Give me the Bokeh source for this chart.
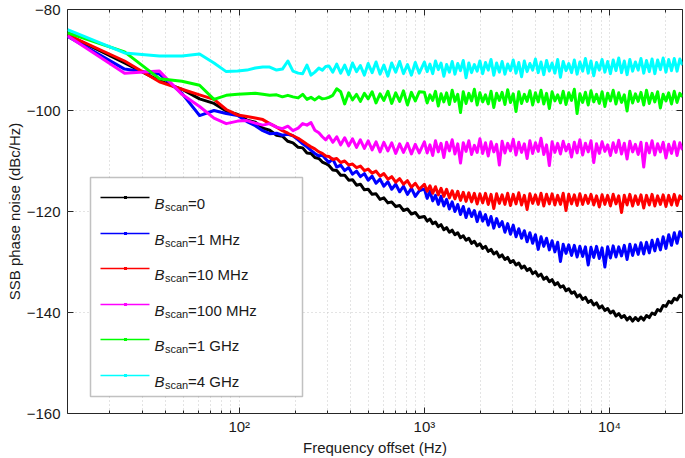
from bokeh.plotting import figure
from bokeh.models import Range1d, FixedTicker, LogAxis, LinearAxis, Label, BoxAnnotation, CustomJSTickFormatter
from bokeh.embed import file_html
from bokeh.resources import INLINE

# ---------------- data ----------------
FREQ_HZ = [
    11.8, 24, 37, 49, 61, 73, 85, 98, 110, 122, 134, 146, 159, 171, 183, 195, 208, 220, 232, 244, 256, 269, 281, 293,
    305, 320, 336, 353, 371, 390, 409, 430, 451, 474, 497, 522, 548, 576, 604, 635, 666, 700, 735, 771, 810, 851, 893, 938,
    1000, 1035, 1072, 1109, 1148, 1189, 1230, 1274, 1318, 1365,
    1413, 1462, 1514, 1567, 1622, 1679, 1738, 1799, 1862, 1928,
    1995, 2065, 2138, 2213, 2291, 2371, 2455, 2541, 2630, 2723,
    2818, 2917, 3020, 3126, 3236, 3350, 3467, 3589, 3715, 3846,
    3981, 4121, 4266, 4416, 4571, 4732, 4898, 5070, 5248, 5433,
    5623, 5821, 6026, 6237, 6457, 6683, 6918, 7161, 7413, 7674,
    7943, 8222, 8511, 8810, 9120, 9441, 9772, 10116, 10471, 10839,
    11220, 11614, 12023, 12445, 12882, 13335, 13804, 14289, 14791, 15311,
    15849, 16406, 16982, 17579, 18197, 18836, 19498, 20184, 20893, 21627,
    22387, 23174, 23988, 24800,
]

NOISE_0 = [
    -85.0, -90.6, -94.1, -95.8, -97.7, -98.6, -100.1, -100.8, -101.9, -102.3, -103.5, -103.9,
    -104.9, -105.1, -106.1, -106.4, -107.3, -107.4, -108.4, -108.5, -109.3, -109.5, -110.2, -110.5,
    -110.9, -111.8, -111.9, -112.8, -112.8, -113.8, -113.7, -114.8, -114.6, -115.7, -115.6, -116.6,
    -116.5, -117.6, -117.3, -118.3, -118.1, -119.0, -118.8, -119.8, -119.5, -120.5, -120.2, -121.2,
    -121.0, -121.9, -121.5, -122.4, -122.1, -123.0, -122.6, -123.6, -123.2, -124.1,
    -123.7, -124.6, -124.2, -125.2, -124.8, -125.7, -125.3, -126.3, -125.9, -126.8,
    -126.4, -127.3, -126.9, -127.9, -127.5, -128.4, -128.0, -129.0, -128.6, -129.5,
    -129.1, -130.1, -129.7, -130.6, -130.2, -131.2, -130.8, -131.7, -131.3, -132.3,
    -131.9, -132.8, -132.4, -133.4, -133.0, -133.9, -133.5, -134.5, -134.1, -135.0,
    -134.7, -135.7, -135.3, -136.2, -135.9, -136.9, -136.5, -137.4, -137.0, -138.0,
    -137.6, -138.5, -138.1, -139.1, -138.7, -139.6, -139.2, -140.1, -139.7, -140.7,
    -140.2, -141.0, -140.6, -141.5, -140.9, -141.7, -141.0, -141.6, -140.9, -141.5,
    -140.6, -141.0, -140.1, -140.4, -139.4, -139.7, -138.6, -138.8, -137.8, -138.1,
    -137.2, -137.5, -136.6, -136.9,
]

NOISE_1MHZ = [
    -85.3, -91.8, -92.8, -96.6, -101.0, -100.0, -100.6, -101.0, -102.2, -103.0, -104.0, -104.6,
    -104.5, -104.9, -104.7, -105.0, -105.8, -106.6, -107.2, -107.9, -108.5, -109.0, -108.8, -109.6,
    -110.3, -109.6, -111.2, -110.8, -111.9, -111.3, -112.6, -112.0, -113.1, -112.5, -113.8, -113.0,
    -114.4, -113.6, -115.0, -114.1, -115.6, -114.6, -116.1, -115.0, -116.6, -115.4, -117.0, -115.9,
    -115.5, -117.4, -116.0, -117.9, -116.8, -118.6, -117.0, -118.9, -117.6, -119.5,
    -118.1, -120.0, -118.6, -120.6, -119.0, -121.2, -119.5, -121.0, -119.8, -122.0,
    -120.1, -121.9, -120.6, -122.7, -121.0, -123.3, -121.4, -123.0, -122.0, -124.1,
    -122.4, -124.5, -122.7, -125.0, -123.4, -125.3, -123.8, -126.0, -124.2, -126.3,
    -124.6, -127.5, -125.0, -126.9, -125.3, -127.6, -125.8, -128.0, -126.1, -129.9,
    -126.5, -128.3, -126.6, -128.7, -126.7, -129.0, -126.9, -128.9, -127.0, -130.6,
    -127.1, -129.1, -126.9, -129.3, -127.2, -131.0, -127.0, -129.2, -126.8, -129.0,
    -127.0, -128.8, -126.7, -129.5, -126.5, -128.7, -126.6, -128.5, -126.2, -128.4,
    -126.1, -128.2, -125.7, -127.8, -125.5, -127.6, -125.0, -127.3, -124.6, -126.7,
    -124.2, -126.3, -124.0, -125.2,
]

NOISE_10MHZ = [
    -85.0, -90.2, -94.3, -95.8, -96.9, -97.8, -99.8, -100.9, -101.2, -101.5, -101.8, -102.6,
    -103.3, -104.0, -104.5, -105.0, -105.5, -106.1, -106.7, -107.2, -107.6, -108.2, -108.5, -109.0,
    -109.1, -109.7, -109.5, -110.3, -110.0, -110.8, -110.6, -111.3, -111.0, -111.9, -111.6, -112.4,
    -112.0, -113.0, -112.5, -113.6, -113.1, -114.2, -113.5, -114.6, -113.9, -115.2, -114.4, -115.6,
    -114.6, -116.0, -114.9, -116.4, -115.1, -116.7, -115.4, -117.0, -115.6, -117.3,
    -115.9, -117.5, -116.0, -117.8, -116.2, -118.0, -116.3, -118.1, -116.4, -118.5,
    -116.5, -118.3, -116.4, -118.6, -116.6, -119.4, -116.5, -118.4, -116.7, -118.6,
    -116.4, -118.8, -116.6, -118.5, -116.3, -118.7, -116.8, -119.6, -116.5, -118.4,
    -116.7, -118.6, -116.4, -118.9, -116.6, -118.5, -116.5, -118.7, -116.8, -118.6,
    -116.4, -119.8, -116.6, -118.5, -116.7, -118.8, -116.5, -118.6, -116.8, -118.4,
    -116.6, -118.7, -116.9, -119.1, -116.7, -118.6, -116.8, -118.9, -116.6, -118.5,
    -116.9, -120.2, -116.8, -118.7, -116.6, -118.9, -116.9, -118.6, -116.7, -119.3,
    -116.8, -118.7, -116.6, -118.9, -116.9, -118.6, -116.7, -119.0, -116.8, -118.7,
    -116.6, -118.8, -116.9, -117.6,
]

NOISE_100MHZ = [
    -85.2, -92.6, -92.2, -96.8, -99.2, -101.5, -102.6, -102.1, -102.0, -102.5, -102.9, -102.6,
    -103.3, -103.6, -103.1, -104.0, -103.5, -102.6, -102.9, -102.4, -103.9, -104.4, -105.2, -105.8,
    -105.0, -106.3, -105.2, -106.8, -105.4, -107.0, -105.6, -107.3, -105.8, -107.5, -106.0, -107.8,
    -106.2, -108.2, -106.3, -108.0, -106.4, -108.5, -106.6, -108.3, -106.5, -108.6, -106.7, -108.4,
    -106.2, -108.4, -106.8, -108.9, -106.0, -108.2, -106.5, -109.3, -106.3, -108.0,
    -105.8, -108.6, -106.6, -110.4, -106.4, -108.1, -106.0, -108.7, -106.9, -108.3,
    -105.6, -108.5, -106.4, -109.0, -106.2, -108.2, -106.7, -110.8, -106.1, -108.4,
    -106.5, -108.0, -105.7, -108.8, -106.3, -108.3, -106.6, -109.5, -106.0, -108.5,
    -106.4, -108.1, -105.5, -108.7, -106.8, -110.9, -106.2, -108.3, -106.5, -108.6,
    -106.1, -108.0, -106.7, -109.2, -106.3, -108.4, -105.8, -108.8, -106.5, -108.2,
    -106.0, -110.3, -106.6, -108.5, -106.2, -108.1, -106.8, -108.9, -106.4, -108.3,
    -105.9, -108.6, -106.5, -109.6, -106.1, -108.2, -106.7, -108.7, -106.3, -111.2,
    -106.5, -108.4, -106.0, -108.8, -106.6, -108.2, -106.3, -109.4, -106.7, -108.5,
    -106.2, -108.9, -106.4, -107.8,
]

NOISE_1GHZ = [
    -84.6, -88.4, -93.7, -94.2, -95.0, -97.8, -97.0, -96.8, -96.7, -96.6, -96.8, -97.0,
    -96.9, -97.3, -97.0, -97.3, -97.5, -96.8, -97.8, -97.4, -97.9, -97.3, -97.7, -97.6,
    -97.4, -97.0, -95.7, -96.3, -98.7, -96.5, -97.9, -96.8, -98.2, -96.6, -97.7, -96.3,
    -98.5, -96.7, -98.0, -96.2, -98.6, -96.5, -98.2, -96.1, -98.9, -96.4, -98.1, -96.3,
    -96.4, -98.5, -96.9, -98.0, -96.2, -99.1, -96.7, -98.3, -96.5, -98.8,
    -96.0, -98.2, -96.8, -100.4, -96.3, -98.6, -96.6, -98.1, -95.8, -98.9,
    -96.5, -98.3, -96.9, -98.7, -96.2, -99.4, -96.6, -98.0, -96.4, -98.8,
    -95.9, -98.4, -96.7, -100.2, -96.3, -98.6, -96.8, -98.2, -96.1, -98.9,
    -96.5, -98.3, -96.0, -98.7, -96.6, -99.6, -96.3, -98.1, -96.9, -98.5,
    -96.2, -98.8, -96.5, -98.0, -95.8, -100.6, -96.7, -98.4, -96.4, -98.9,
    -96.1, -98.3, -96.8, -98.6, -96.3, -99.2, -96.6, -98.1, -96.0, -98.7,
    -96.5, -98.4, -96.9, -100.1, -96.2, -98.5, -96.7, -98.2, -96.4, -98.9,
    -96.0, -98.6, -96.6, -98.3, -96.3, -99.5, -96.8, -98.1, -96.5, -98.7,
    -96.2, -98.4, -96.6, -97.3,
]

NOISE_4GHZ = [
    -84.0, -88.6, -89.2, -89.2, -88.8, -90.6, -92.3, -92.2, -92.0, -91.6, -91.4, -91.4,
    -92.0, -91.8, -90.2, -92.2, -92.6, -92.7, -91.0, -93.0, -92.4, -91.6, -92.0, -91.3,
    -91.2, -92.4, -90.8, -92.6, -91.0, -92.9, -90.6, -92.3, -91.1, -93.0, -90.7, -92.5,
    -90.4, -92.8, -91.0, -93.2, -90.6, -92.4, -90.3, -92.7, -90.9, -93.0, -90.5, -92.6,
    -90.4, -92.3, -90.8, -92.7, -90.2, -91.9, -90.6, -93.2, -90.9, -92.4,
    -90.3, -92.8, -90.7, -92.1, -90.1, -93.5, -90.6, -92.5, -90.9, -92.2,
    -90.2, -92.7, -90.5, -92.0, -89.9, -93.0, -90.6, -92.4, -90.3, -92.8,
    -90.8, -92.1, -90.0, -92.6, -90.5, -93.3, -90.2, -92.3, -90.7, -92.0,
    -89.8, -92.5, -90.4, -92.9, -90.1, -92.2, -90.6, -92.6, -89.9, -93.4,
    -90.3, -92.1, -90.7, -92.5, -90.0, -92.8, -90.4, -92.2, -89.7, -92.6,
    -90.2, -93.1, -90.5, -92.0, -89.9, -92.4, -90.3, -92.7, -90.0, -92.1,
    -89.6, -92.5, -90.2, -92.9, -89.9, -92.2, -90.4, -92.0, -89.7, -92.6,
    -90.1, -92.3, -89.8, -92.7, -90.0, -91.9, -89.6, -92.4, -89.9, -92.1,
    -89.7, -92.2, -89.8, -91.0,
]

SERIES = [NOISE_0, NOISE_1MHZ, NOISE_10MHZ, NOISE_100MHZ, NOISE_1GHZ, NOISE_4GHZ]
SERIES_LABELS = ["=0", "=1 MHz", "=10 MHz", "=100 MHz", "=1 GHz", "=4 GHz"]
SERIES_COLORS = ["#000000", "#0000ff", "#ff0000", "#ff00ff", "#00ff00", "#00ffff"]

X_MAJOR_TICKS = [100, 1000, 10000]
X_MINOR_TICKS = [20, 30, 40, 50, 60, 70, 80, 90,
                 200, 300, 400, 500, 600, 700, 800, 900,
                 2000, 3000, 4000, 5000, 6000, 7000, 8000, 9000, 20000]
X_TICK_LABELS = ["10\u00b2", "10\u00b3", "10\u2074"]
Y_TICKS = [-160, -140, -120, -100, -80]
Y_TICK_LABELS = ["\u2212160", "\u2212140", "\u2212120", "\u2212100", "\u221280"]

FONT = "Liberation Sans"
AXIS_COLOR = "#262626"
GRID_COLOR = "#c8c8c8"

# ---------------- figure ----------------
p = figure(width=685, height=458, x_axis_type="log",
           x_range=Range1d(11.8, 24800), y_range=Range1d(-160, -80),
           output_backend="svg", toolbar_location=None,
           min_border_left=67, min_border_right=3, min_border_top=9, min_border_bottom=0,
           x_axis_label="Frequency offset (Hz)", y_axis_label="SSB phase noise (dBc/Hz)")
p.background_fill_color = "white"
p.border_fill_color = "white"
p.outline_line_color = AXIS_COLOR
p.outline_line_width = 1

xt = FixedTicker(ticks=X_MAJOR_TICKS, minor_ticks=X_MINOR_TICKS)
yt = FixedTicker(ticks=Y_TICKS, minor_ticks=[])

for ax in (p.xaxis[0], p.yaxis[0]):
    ax.axis_line_color = None
    ax.major_tick_line_color = AXIS_COLOR
    ax.minor_tick_line_color = AXIS_COLOR
    ax.major_tick_in = 6
    ax.major_tick_out = 0
    ax.minor_tick_in = 3
    ax.minor_tick_out = 0
    ax.major_label_text_font = FONT
    ax.major_label_text_font_size = "15px"
    ax.major_label_text_color = "#1a1a1a"
    ax.axis_label_text_font = FONT
    ax.axis_label_text_font_size = "15px"
    ax.axis_label_text_font_style = "normal"
    ax.axis_label_text_color = "#1a1a1a"

p.xaxis[0].ticker = xt
p.xaxis[0].major_label_overrides = dict(zip(X_MAJOR_TICKS, X_TICK_LABELS))
p.xaxis[0].major_label_standoff = 4
p.xaxis[0].axis_label_standoff = 1
p.yaxis[0].ticker = yt
p.yaxis[0].major_label_overrides = dict(zip(Y_TICKS, Y_TICK_LABELS))
p.yaxis[0].major_label_standoff = 7
p.yaxis[0].axis_label_standoff = 1

p.xgrid.ticker = xt
p.ygrid.ticker = yt
for g in (p.xgrid[0], p.ygrid[0]):
    g.grid_line_color = GRID_COLOR
    g.grid_line_dash = "1 3"
    g.grid_line_width = 1
p.xgrid[0].minor_grid_line_color = GRID_COLOR
p.xgrid[0].minor_grid_line_dash = "1 3"

# mirrored ticks on top and right (box style), labels blanked
blank = CustomJSTickFormatter(code="return ' ';")
top = LogAxis(ticker=xt, formatter=blank, axis_line_color=None,
              major_label_text_font_size="1px", major_label_text_color=None,
              major_label_standoff=0, major_tick_in=6, major_tick_out=0,
              minor_tick_in=3, minor_tick_out=0,
              major_tick_line_color=AXIS_COLOR, minor_tick_line_color=AXIS_COLOR)
right = LinearAxis(ticker=yt, formatter=blank, axis_line_color=None,
                   major_label_text_font_size="1px", major_label_text_color=None,
                   major_label_standoff=0, major_tick_in=6, major_tick_out=0,
                   minor_tick_line_color=None,
                   major_tick_line_color=AXIS_COLOR)
p.add_layout(top, "above")
p.add_layout(right, "right")

# ---------------- curves ----------------
for vals, col in zip(SERIES, SERIES_COLORS):
    p.line(FREQ_HZ, vals, line_color=col, line_width=3, line_join="round")

# ---------------- legend (drawn by hand for the subscript) ----------------
LEG_LEFT, LEG_RIGHT, LEG_BOTTOM, LEG_TOP = 23, 235, 17, 236
p.add_layout(BoxAnnotation(left=LEG_LEFT, right=LEG_RIGHT, bottom=LEG_BOTTOM, top=LEG_TOP,
                           left_units="screen", right_units="screen",
                           bottom_units="screen", top_units="screen",
                           fill_color="white", fill_alpha=1.0,
                           line_color="#333333", line_width=1.5, level="overlay"))
ENTRY_Y = [216, 180, 145, 109, 74, 38]
for ey, lab, col in zip(ENTRY_Y, SERIES_LABELS, SERIES_COLORS):
    p.add_layout(BoxAnnotation(left=33, right=82, bottom=ey - 0.75, top=ey + 0.75,
                               left_units="screen", right_units="screen",
                               bottom_units="screen", top_units="screen",
                               fill_color=col, fill_alpha=1.0, line_color=None, level="overlay"))
    p.add_layout(BoxAnnotation(left=56.5, right=59.5, bottom=ey - 1.5, top=ey + 1.5,
                               left_units="screen", right_units="screen",
                               bottom_units="screen", top_units="screen",
                               fill_color=col, fill_alpha=1.0, line_color=None, level="overlay"))
    p.add_layout(Label(x=87, y=ey - 6, x_units="screen", y_units="screen", text="B",
                       text_font=FONT, text_font_size="15px", text_font_style="italic",
                       text_baseline="alphabetic", text_align="left", text_color="#1a1a1a",
                       level="overlay"))
    p.add_layout(Label(x=97.5, y=ey - 9.5, x_units="screen", y_units="screen", text="scan",
                       text_font=FONT, text_font_size="11px",
                       text_baseline="alphabetic", text_align="left", text_color="#1a1a1a",
                       level="overlay"))
    p.add_layout(Label(x=120.5, y=ey - 6, x_units="screen", y_units="screen", text=lab,
                       text_font=FONT, text_font_size="15px",
                       text_baseline="alphabetic", text_align="left", text_color="#1a1a1a",
                       level="overlay"))

open("out.html", "w").write(file_html(p, INLINE))
